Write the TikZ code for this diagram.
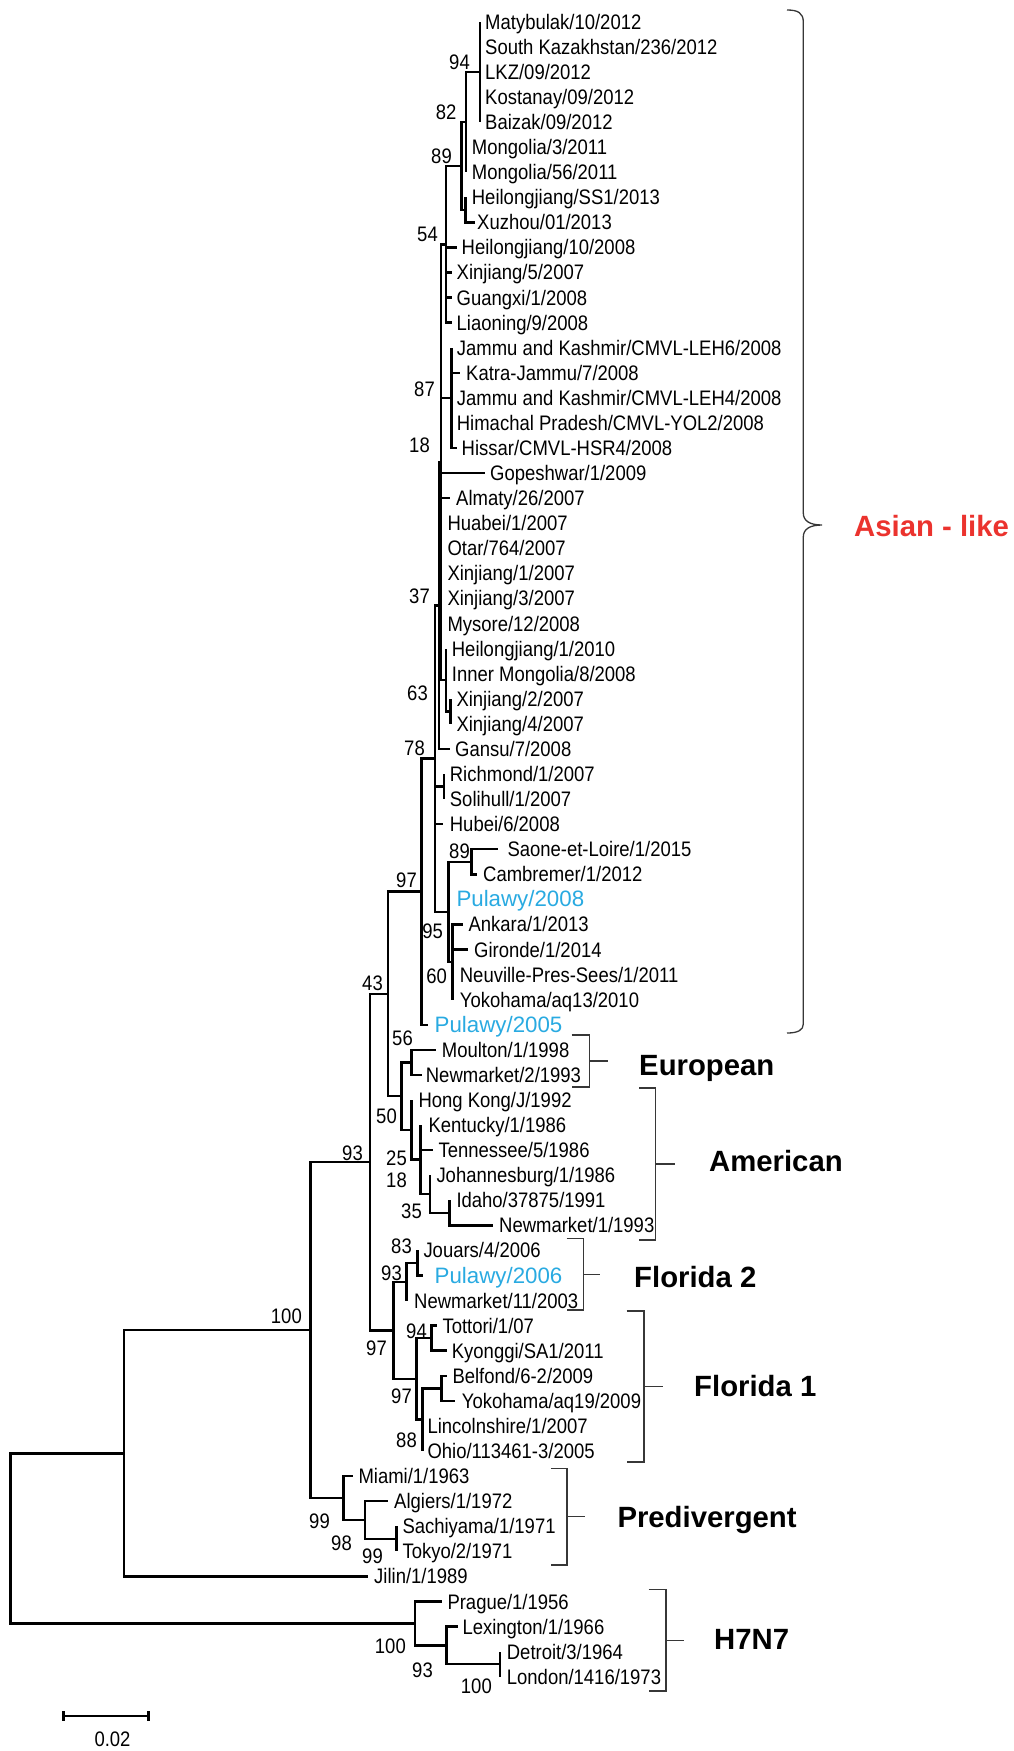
\documentclass[tikz,border=0pt]{standalone}
\usepackage{fontspec}
\setmainfont{Liberation Sans}
\newfontfamily\leaffont{Liberation Sans}[FakeStretch=0.88]
\newfontfamily\plainfont{Liberation Sans}
\definecolor{pulblue}{RGB}{41,170,225}
\definecolor{asianred}{RGB}{235,51,46}
\definecolor{brkgray}{RGB}{55,55,55}
\tikzset{
  br/.style={line width=2.5pt, draw=black},
  brk/.style={line width=1.3pt, draw=brkgray},
  leaflab/.style={anchor=base west, inner sep=0pt, font=\leaffont\fontsize{21}{25}\selectfont, text=black},
  pullab/.style={anchor=base west, inner sep=0pt, font=\plainfont\fontsize{22.3}{25}\selectfont, text=pulblue},
  bs/.style={anchor=base east, inner sep=0pt, font=\leaffont\fontsize{21}{25}\selectfont, text=black},
  grp/.style={anchor=base west, inner sep=0pt, font=\bfseries\fontsize{29.3}{34}\selectfont, text=black},
}
% leaf: index, parent, tip x, text x, style, text
\newcommand\tleaf[6]{%
  \pgfmathsetmacro\leafy{21.7+25.076*#1}%
  \coordinate (t#1) at (#3,\leafy);%
  \draw[br] (#2) |- (t#1);%
  \node[#5] (l#1) at ({#4-1},{\leafy+7.5}) {#6};%
}
% bracket: name, x1, x2, x3, top, bottom
\newcommand\clbracket[6]{%
  \coordinate (#1t) at (#2,#5);%
  \coordinate (#1b) at (#2,#6);%
  \coordinate (#1c) at (#3,{(#5+#6)/2});%
  \coordinate (#1m) at (#4,{(#5+#6)/2});%
  \draw[brk] (#1t) -- (#3,#5) -- (#3,#6) -- (#1b);%
  \draw[brk] (#1c) -- (#1m);%
}
\begin{document}
\begin{tikzpicture}[x=1pt,y=-1pt]
\useasboundingbox (0,0) rectangle (1013,1751);
% internal nodes
\coordinate (Root) at (10.7,1538.34);
\coordinate (R2) at (124,1453.25);
\coordinate (N100) at (310.7,1330.09);
\coordinate (N93) at (370,1162.13);
\coordinate (N43) at (387.8,993.9);
\coordinate (A97) at (421.7,891.72);
\coordinate (Z78) at (435,758.7);
\coordinate (Z37) at (438.8,605.5);
\coordinate (V) at (441.2,462.1);
\coordinate (X3) at (446,244.25);
\coordinate (X2) at (461.5,165.89);
\coordinate (X1) at (466,122.0);
\coordinate (P) at (480,71.85);
\coordinate (C) at (465.5,209.77);
\coordinate (X5) at (451.7,397.84);
\coordinate (W) at (446,679.95);
\coordinate (Q) at (450.7,711.29);
\coordinate (RS) at (444,786.52);
\coordinate (N95) at (448.3,911.9);
\coordinate (SC) at (471.7,861.75);
\coordinate (N60) at (452.7,962.05);
\coordinate (N50) at (401.7,1096.05);
\coordinate (Euro) at (411.7,1062.36);
\coordinate (Am) at (411.7,1129.75);
\coordinate (K) at (420.7,1159.52);
\coordinate (J35) at (430,1194.0);
\coordinate (Id) at (449.3,1212.81);
\coordinate (F) at (393.3,1330.36);
\coordinate (F2) at (406.7,1281.77);
\coordinate (JP) at (417.3,1262.96);
\coordinate (F1) at (416.7,1378.94);
\coordinate (TK) at (431.7,1338.19);
\coordinate (L88) at (422.7,1419.69);
\coordinate (BY) at (441.7,1388.34);
\coordinate (Pre) at (343.3,1498.05);
\coordinate (AS) at (365,1519.99);
\coordinate (ST) at (396.7,1538.8);
\coordinate (H) at (415,1623.43);
\coordinate (LD) at (446.7,1645.37);
\coordinate (DL) at (500,1664.18);
% internal edges
\foreach \a/\b in {Root/R2,Root/H,R2/N100,N100/N93,N100/Pre,N93/N43,N93/F,N43/A97,N43/N50,A97/Z78,Z78/Z37,Z78/RS,Z78/N95,Z37/V,V/X3,V/X5,V/W,X3/X2,X2/X1,X2/C,X1/P,W/Q,N95/SC,N95/N60,N50/Euro,N50/Am,Am/K,K/J35,J35/Id,F/F2,F/F1,F2/JP,F1/TK,F1/L88,L88/BY,Pre/AS,AS/ST,H/LD,LD/DL}
  \draw[br] (\a) |- (\b);
% leaves
\tleaf{0}{P}{480}{486}{leaflab}{Matybulak/10/2012}
\tleaf{1}{P}{480}{486}{leaflab}{South Kazakhstan/236/2012}
\tleaf{2}{P}{480}{486}{leaflab}{LKZ/09/2012}
\tleaf{3}{P}{480}{486}{leaflab}{Kostanay/09/2012}
\tleaf{4}{P}{480}{486}{leaflab}{Baizak/09/2012}
\tleaf{5}{X1}{466}{472.7}{leaflab}{Mongolia/3/2011}
\tleaf{6}{X1}{466}{472.7}{leaflab}{Mongolia/56/2011}
\tleaf{7}{C}{465.5}{472.7}{leaflab}{Heilongjiang/SS1/2013}
\tleaf{8}{C}{475}{478}{leaflab}{Xuzhou/01/2013}
\tleaf{9}{X3}{456.7}{462.5}{leaflab}{Heilongjiang/10/2008}
\tleaf{10}{X3}{451.7}{457.5}{leaflab}{Xinjiang/5/2007}
\tleaf{11}{X3}{451.7}{457.5}{leaflab}{Guangxi/1/2008}
\tleaf{12}{X3}{451.7}{457.5}{leaflab}{Liaoning/9/2008}
\tleaf{13}{X5}{451.7}{457.7}{leaflab}{Jammu and Kashmir/CMVL-LEH6/2008}
\tleaf{14}{X5}{460}{467}{leaflab}{Katra-Jammu/7/2008}
\tleaf{15}{X5}{451.7}{457.7}{leaflab}{Jammu and Kashmir/CMVL-LEH4/2008}
\tleaf{16}{X5}{451.7}{457.7}{leaflab}{Himachal Pradesh/CMVL-YOL2/2008}
\tleaf{17}{X5}{456.7}{462.5}{leaflab}{Hissar/CMVL-HSR4/2008}
\tleaf{18}{V}{485}{491}{leaflab}{Gopeshwar/1/2009}
\tleaf{19}{V}{450}{457}{leaflab}{Almaty/26/2007}
\tleaf{20}{V}{441.2}{448.3}{leaflab}{Huabei/1/2007}
\tleaf{21}{V}{441.2}{448.3}{leaflab}{Otar/764/2007}
\tleaf{22}{V}{441.2}{448.3}{leaflab}{Xinjiang/1/2007}
\tleaf{23}{V}{441.2}{448.3}{leaflab}{Xinjiang/3/2007}
\tleaf{24}{V}{441.2}{448.3}{leaflab}{Mysore/12/2008}
\tleaf{25}{W}{446}{452.7}{leaflab}{Heilongjiang/1/2010}
\tleaf{26}{W}{446}{452.7}{leaflab}{Inner Mongolia/8/2008}
\tleaf{27}{Q}{450.7}{457.3}{leaflab}{Xinjiang/2/2007}
\tleaf{28}{Q}{450.7}{457.3}{leaflab}{Xinjiang/4/2007}
\tleaf{29}{Z37}{450}{456}{leaflab}{Gansu/7/2008}
\tleaf{30}{RS}{444}{450.7}{leaflab}{Richmond/1/2007}
\tleaf{31}{RS}{444}{450.7}{leaflab}{Solihull/1/2007}
\tleaf{32}{Z78}{443.3}{450.7}{leaflab}{Hubei/6/2008}
\tleaf{33}{SC}{498.3}{508.3}{leaflab}{Saone-et-Loire/1/2015}
\tleaf{34}{SC}{476.7}{484}{leaflab}{Cambremer/1/2012}
\tleaf{35}{N95}{448.3}{457.3}{pullab}{Pulawy/2008}
\tleaf{36}{N60}{463}{469.3}{leaflab}{Ankara/1/2013}
\tleaf{37}{N60}{468}{475}{leaflab}{Gironde/1/2014}
\tleaf{38}{N60}{452.7}{460.7}{leaflab}{Neuville-Pres-Sees/1/2011}
\tleaf{39}{N60}{452.7}{460.7}{leaflab}{Yokohama/aq13/2010}
\tleaf{40}{A97}{428}{435.5}{pullab}{Pulawy/2005}
\tleaf{41}{Euro}{436}{442.7}{leaflab}{Moulton/1/1998}
\tleaf{42}{Euro}{421.7}{426.7}{leaflab}{Newmarket/2/1993}
\tleaf{43}{Am}{411.7}{419.3}{leaflab}{Hong Kong/J/1992}
\tleaf{44}{K}{420.7}{429.3}{leaflab}{Kentucky/1/1986}
\tleaf{45}{K}{433.3}{439.3}{leaflab}{Tennessee/5/1986}
\tleaf{46}{J35}{430}{437.3}{leaflab}{Johannesburg/1/1986}
\tleaf{47}{Id}{449.3}{457.3}{leaflab}{Idaho/37875/1991}
\tleaf{48}{Id}{493.3}{500}{leaflab}{Newmarket/1/1993}
\tleaf{49}{JP}{417.3}{424.3}{leaflab}{Jouars/4/2006}
\tleaf{50}{JP}{423.3}{435.5}{pullab}{Pulawy/2006}
\tleaf{51}{F2}{406.7}{415}{leaflab}{Newmarket/11/2003}
\tleaf{52}{TK}{436.7}{443.3}{leaflab}{Tottori/1/07}
\tleaf{53}{TK}{446.7}{452.7}{leaflab}{Kyonggi/SA1/2011}
\tleaf{54}{BY}{446.5}{453.3}{leaflab}{Belfond/6-2/2009}
\tleaf{55}{BY}{455}{462.7}{leaflab}{Yokohama/aq19/2009}
\tleaf{56}{L88}{422.7}{428.3}{leaflab}{Lincolnshire/1/2007}
\tleaf{57}{L88}{422.7}{428.3}{leaflab}{Ohio/113461-3/2005}
\tleaf{58}{Pre}{353.3}{359.3}{leaflab}{Miami/1/1963}
\tleaf{59}{AS}{388.3}{395}{leaflab}{Algiers/1/1972}
\tleaf{60}{ST}{396.7}{403.3}{leaflab}{Sachiyama/1/1971}
\tleaf{61}{ST}{396.7}{403.3}{leaflab}{Tokyo/2/1971}
\tleaf{62}{R2}{368.3}{375}{leaflab}{Jilin/1/1989}
\tleaf{63}{H}{441.7}{448.3}{leaflab}{Prague/1/1956}
\tleaf{64}{LD}{458.3}{463.3}{leaflab}{Lexington/1/1966}
\tleaf{65}{DL}{500}{507.7}{leaflab}{Detroit/3/1964}
\tleaf{66}{DL}{500}{507.7}{leaflab}{London/1416/1973}
% bootstrap values
\node[bs] (b1) at (470,69) {94};
\node[bs] (b2) at (456.7,119) {82};
\node[bs] (b3) at (452,163) {89};
\node[bs] (b4) at (438,241) {54};
\node[bs] (b5) at (435,396) {87};
\node[bs] (b6) at (430,452) {18};
\node[bs] (b7) at (430,603) {37};
\node[bs] (b8) at (428,700) {63};
\node[bs] (b9) at (425,755) {78};
\node[bs] (b10) at (417,887) {97};
\node[bs] (b11) at (470,858) {89};
\node[bs] (b12) at (443,938) {95};
\node[bs] (b13) at (447,983) {60};
\node[bs] (b14) at (383,990) {43};
\node[bs] (b15) at (413,1045) {56};
\node[bs] (b16) at (397,1123) {50};
\node[bs] (b17) at (363,1160) {93};
\node[bs] (b18) at (407,1165) {25};
\node[bs] (b19) at (407,1187) {18};
\node[bs] (b20) at (422,1218) {35};
\node[bs] (b21) at (412,1253) {83};
\node[bs] (b22) at (402,1280) {93};
\node[bs] (b23) at (427,1338) {94};
\node[bs] (b24) at (387,1355) {97};
\node[bs] (b25) at (412,1403) {97};
\node[bs] (b26) at (417,1447) {88};
\node[bs] (b27) at (302,1323) {100};
\node[bs] (b28) at (330,1528) {99};
\node[bs] (b29) at (352,1550) {98};
\node[bs] (b30) at (383,1563) {99};
\node[bs] (b31) at (406,1653) {100};
\node[bs] (b32) at (433,1677) {93};
\node[bs] (b33) at (492,1693) {100};
% Asian-like brace
\coordinate (asT) at (787,10);
\coordinate (asM) at (822,525);
\coordinate (asB) at (787,1033);
\draw[brk] (asT) .. controls (798,10) and (803.3,13) .. (803.3,22) -- (803.3,513)
  .. controls (803.3,521) and (810,525) .. (asM)
  .. controls (810,525) and (803.3,529) .. (803.3,537) -- (803.3,1024)
  .. controls (803.3,1030) and (798,1033) .. (asB);
\node[grp, text=asianred] (gAs) at (854,536.5) {Asian - like};
% clade brackets
\clbracket{eu}{571.7}{589.3}{608.3}{1035}{1087}
\clbracket{am}{639}{655.5}{675}{1088}{1240}
\clbracket{fa}{566.7}{583.3}{600}{1238.5}{1310}
\clbracket{fb}{626.7}{644}{663}{1311}{1462}
\clbracket{pd}{550.8}{567}{585}{1468.3}{1565}
\clbracket{hn}{648.5}{666}{684}{1589.3}{1691}
\node[grp] (gEu) at (639,1075) {European};
\node[grp] (gAm) at (709,1171.5) {American};
\node[grp] (gFa) at (634,1287) {Florida 2};
\node[grp] (gFb) at (694,1396.5) {Florida 1};
\node[grp] (gPd) at (617.3,1527) {Predivergent};
\node[grp] (gHn) at (714,1649.5) {H7N7};
% scale bar
\coordinate (sbL) at (63.3,1716);
\coordinate (sbR) at (148.3,1716);
\draw[br] (sbL) -- (sbR);
\draw[br] ([yshift=5pt]sbL) -- ([yshift=-5pt]sbL);
\draw[br] ([yshift=5pt]sbR) -- ([yshift=-5pt]sbR);
\node[bs, anchor=base] (sbt) at (112.5,1746.5) {0.02};
\end{tikzpicture}
\end{document}
